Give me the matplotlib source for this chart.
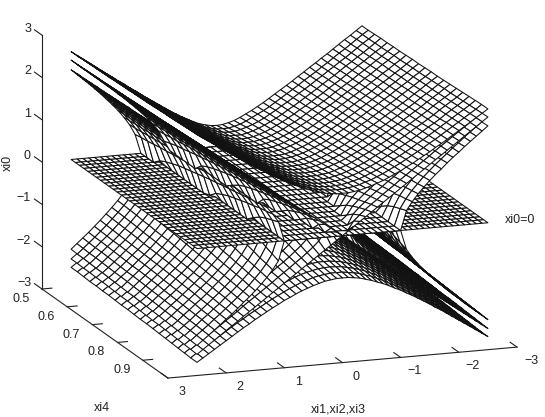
import numpy as np
import matplotlib
matplotlib.use("Agg")
import matplotlib.pyplot as plt
from mpl_toolkits.mplot3d import proj3d
from mpl_toolkits.mplot3d.art3d import Poly3DCollection

plt.rcParams['font.family'] = ['Liberation Sans', 'DejaVu Sans']

# mesh nodes, right half of xi only (the picture is mirror symmetric in xi)
xi_half = [0.0, 0.1, 0.2, 0.3, 0.4, 0.5, 0.6, 0.7, 0.8, 0.9, 1.0, 1.1, 1.2,
           1.3, 1.4, 1.5, 1.6, 1.7, 1.8, 1.9, 2.0, 2.1, 2.2, 2.3, 2.4, 2.5]
xi4 = [0.5, 0.525, 0.55, 0.575, 0.6, 0.625, 0.65, 0.675, 0.7, 0.725, 0.75,
       0.775, 0.8, 0.825, 0.85, 0.875, 0.9, 0.925, 0.95, 0.975, 1.0]
plane_xi4 = [0.5, 0.517, 0.533, 0.55, 0.567, 0.583, 0.6, 0.617, 0.633, 0.65, 0.667,
             0.683, 0.7, 0.717, 0.733, 0.75, 0.767, 0.783, 0.8, 0.817, 0.833,
             0.85, 0.867, 0.883, 0.9, 0.917, 0.933, 0.95, 0.967, 0.983, 1.0]

# heights of the three upper sheets (rows: xi4, columns: xi_half)
# not read node by node: worked out by hand from xi0^2 = xi^2 + xi4^2 - j (j = 2, 1, 0),
# a relation fitted to the corners, edges and meeting points read off the picture
# where a sheet has no height of its own it lies in the xi0=0 plane
sheet_inner = [
    [0]*14 + [.46,.71,.90,1.07,1.22,1.36,1.50,1.63,1.76,1.88,2.00,2.12],
    [0]*14 + [.49,.72,.91,1.08,1.23,1.37,1.51,1.64,1.77,1.89,2.01,2.13],
    [0]*14 + [.51,.74,.93,1.09,1.24,1.38,1.52,1.65,1.77,1.90,2.02,2.13],
    [0]*13 + [.14,.54,.76,.94,1.10,1.25,1.39,1.53,1.66,1.78,1.90,2.02,2.14],
    [0]*13 + [.22,.57,.78,.96,1.12,1.26,1.40,1.54,1.66,1.79,1.91,2.03,2.15],
    [0]*13 + [.28,.59,.80,.97,1.13,1.28,1.41,1.55,1.67,1.80,1.92,2.04,2.15],
    [0]*13 + [.34,.62,.82,.99,1.15,1.29,1.43,1.56,1.68,1.81,1.93,2.05,2.16],
    [0]*13 + [.38,.64,.84,1.01,1.16,1.30,1.44,1.57,1.69,1.82,1.94,2.05,2.17],
    [0]*13 + [.42,.67,.86,1.02,1.17,1.32,1.45,1.58,1.70,1.82,1.94,2.06,2.18],
    [0]*13 + [.46,.70,.88,1.04,1.19,1.33,1.46,1.59,1.71,1.83,1.95,2.07,2.19],
    [0]*12 + [.05,.50,.72,.90,1.06,1.21,1.34,1.47,1.60,1.72,1.84,1.96,2.08,2.19],
    [0]*12 + [.20,.54,.75,.92,1.08,1.22,1.36,1.49,1.61,1.74,1.85,1.97,2.09,2.20],
    [0]*12 + [.28,.57,.77,.94,1.10,1.24,1.37,1.50,1.62,1.75,1.87,1.98,2.10,2.21],
    [0]*12 + [.35,.61,.80,.96,1.11,1.25,1.39,1.51,1.64,1.76,1.88,1.99,2.11,2.22],
    [0]*12 + [.40,.64,.83,.99,1.13,1.27,1.40,1.53,1.65,1.77,1.89,2.00,2.12,2.23],
    [0]*12 + [.45,.67,.85,1.01,1.15,1.29,1.42,1.54,1.66,1.78,1.90,2.01,2.13,2.24],
    [0]*11 + [.14,.50,.71,.88,1.03,1.17,1.30,1.43,1.56,1.68,1.79,1.91,2.02,2.14,2.25],
    [0]*11 + [.26,.54,.74,.90,1.05,1.19,1.32,1.45,1.57,1.69,1.81,1.92,2.04,2.15,2.26],
    [0]*11 + [.34,.59,.77,.93,1.07,1.21,1.34,1.46,1.59,1.70,1.82,1.93,2.05,2.16,2.27],
    [0]*11 + [.40,.62,.80,.95,1.10,1.23,1.36,1.48,1.60,1.72,1.83,1.95,2.06,2.17,2.28],
    [0]*11 + [.46,.66,.83,.98,1.12,1.25,1.37,1.50,1.62,1.73,1.85,1.96,2.07,2.18,2.29],
]
sheet_mid = [
    [0]*9 + [.24,.50,.68,.83,.97,1.10,1.22,1.35,1.46,1.58,1.69,1.80,1.91,2.02,2.13,2.24,2.35],
    [0]*9 + [.29,.52,.70,.85,.98,1.11,1.24,1.35,1.47,1.59,1.70,1.81,1.92,2.03,2.14,2.24,2.35],
    [0]*9 + [.34,.55,.72,.86,1.00,1.12,1.25,1.36,1.48,1.59,1.71,1.82,1.93,2.04,2.14,2.25,2.36],
    [0]*9 + [.37,.57,.74,.88,1.01,1.14,1.26,1.37,1.49,1.60,1.71,1.82,1.93,2.04,2.15,2.26,2.36],
    [0]*9 + [.41,.60,.75,.89,1.02,1.15,1.27,1.39,1.50,1.61,1.72,1.83,1.94,2.05,2.16,2.26,2.37],
    [0]*8 + [.17,.45,.63,.77,.91,1.04,1.16,1.28,1.40,1.51,1.62,1.73,1.84,1.95,2.06,2.16,2.27,2.37],
    [0]*8 + [.25,.48,.65,.80,.93,1.05,1.18,1.29,1.41,1.52,1.63,1.74,1.85,1.96,2.06,2.17,2.28,2.38],
    [0]*8 + [.31,.52,.67,.82,.95,1.07,1.19,1.31,1.42,1.53,1.64,1.75,1.86,1.97,2.07,2.18,2.28,2.39],
    [0]*8 + [.36,.55,.70,.84,.96,1.09,1.20,1.32,1.43,1.54,1.65,1.76,1.87,1.97,2.08,2.19,2.29,2.40],
    [0]*7 + [.12,.41,.58,.72,.86,.98,1.10,1.22,1.33,1.44,1.55,1.66,1.77,1.88,1.98,2.09,2.19,2.30,2.40],
    [0]*7 + [.23,.45,.61,.75,.88,1.00,1.12,1.23,1.35,1.46,1.57,1.67,1.78,1.89,1.99,2.10,2.20,2.31,2.41],
    [0]*7 + [.30,.49,.64,.77,.90,1.02,1.14,1.25,1.36,1.47,1.58,1.69,1.79,1.90,2.00,2.11,2.21,2.32,2.42],
    [0]*7 + [.36,.53,.67,.80,.92,1.04,1.15,1.26,1.37,1.48,1.59,1.70,1.80,1.91,2.01,2.12,2.22,2.32,2.43],
    [0]*6 + [.20,.41,.57,.70,.82,.94,1.06,1.17,1.28,1.39,1.50,1.60,1.71,1.81,1.92,2.02,2.13,2.23,2.33,2.44],
    [0]*6 + [.29,.46,.60,.73,.85,.97,1.08,1.19,1.30,1.40,1.51,1.62,1.72,1.83,1.93,2.03,2.14,2.24,2.34,2.44],
    [0]*5 + [.12,.35,.51,.64,.76,.87,.99,1.10,1.21,1.31,1.42,1.52,1.63,1.73,1.84,1.94,2.04,2.15,2.25,2.35,2.45],
    [0]*5 + [.24,.41,.55,.67,.79,.90,1.01,1.12,1.22,1.33,1.44,1.54,1.64,1.75,1.85,1.95,2.05,2.16,2.26,2.36,2.46],
    [0]*4 + [.12,.32,.46,.59,.70,.82,.92,1.03,1.14,1.24,1.35,1.45,1.55,1.66,1.76,1.86,1.96,2.07,2.17,2.27,2.37,2.47],
    [0]*4 + [.25,.39,.51,.63,.74,.84,.95,1.05,1.16,1.26,1.36,1.47,1.57,1.67,1.77,1.87,1.98,2.08,2.18,2.28,2.38,2.48],
    [0]*3 + [.20,.33,.45,.56,.66,.77,.87,.97,1.08,1.18,1.28,1.38,1.48,1.58,1.69,1.79,1.89,1.99,2.09,2.19,2.29,2.39,2.49],
    [0,.10,.20,.30,.40,.50,.60,.70,.80,.90,1.00,1.10,1.20,1.30,1.40,1.50,1.60,1.70,1.80,1.90,2.00,2.10,2.20,2.30,2.40,2.50],
]
sheet_outer = [
    [.50,.51,.54,.58,.64,.71,.78,.86,.94,1.03,1.12,1.21,1.30,1.39,1.49,1.58,1.68,1.77,1.87,1.96,2.06,2.16,2.26,2.35,2.45,2.55],
    [.53,.53,.56,.60,.66,.73,.80,.87,.95,1.04,1.13,1.22,1.31,1.40,1.50,1.59,1.68,1.78,1.87,1.97,2.07,2.16,2.26,2.36,2.46,2.55],
    [.55,.56,.59,.63,.68,.74,.81,.89,.97,1.06,1.14,1.23,1.32,1.41,1.50,1.60,1.69,1.79,1.88,1.98,2.07,2.17,2.27,2.37,2.46,2.56],
    [.58,.58,.61,.65,.70,.76,.83,.90,.98,1.07,1.15,1.24,1.33,1.42,1.51,1.61,1.70,1.79,1.89,1.99,2.08,2.18,2.27,2.37,2.47,2.57],
    [.60,.61,.63,.67,.72,.78,.85,.92,1.00,1.08,1.17,1.25,1.34,1.43,1.52,1.62,1.71,1.80,1.90,1.99,2.09,2.18,2.28,2.38,2.47,2.57],
    [.63,.63,.66,.69,.74,.80,.86,.94,1.01,1.09,1.18,1.27,1.35,1.44,1.53,1.63,1.72,1.81,1.90,2.00,2.09,2.19,2.29,2.38,2.48,2.58],
    [.65,.66,.68,.72,.76,.82,.88,.95,1.03,1.11,1.19,1.28,1.37,1.45,1.54,1.64,1.73,1.82,1.91,2.01,2.10,2.20,2.30,2.39,2.49,2.58],
    [.68,.68,.70,.74,.78,.84,.90,.97,1.04,1.12,1.21,1.29,1.38,1.47,1.56,1.65,1.74,1.83,1.92,2.02,2.11,2.21,2.30,2.40,2.49,2.59],
    [.70,.71,.73,.76,.81,.86,.92,.99,1.06,1.14,1.22,1.30,1.39,1.48,1.57,1.66,1.75,1.84,1.93,2.03,2.12,2.21,2.31,2.40,2.50,2.60],
    [.73,.73,.75,.78,.83,.88,.94,1.01,1.08,1.15,1.24,1.32,1.40,1.49,1.58,1.67,1.76,1.85,1.94,2.03,2.13,2.22,2.32,2.41,2.51,2.60],
    [.75,.76,.78,.81,.85,.90,.96,1.02,1.09,1.17,1.25,1.33,1.42,1.50,1.59,1.68,1.77,1.86,1.95,2.04,2.14,2.23,2.32,2.42,2.51,2.61],
    [.78,.78,.80,.83,.87,.92,.98,1.04,1.11,1.19,1.26,1.35,1.43,1.52,1.60,1.69,1.78,1.87,1.96,2.05,2.15,2.24,2.33,2.43,2.52,2.62],
    [.80,.81,.82,.85,.89,.94,1.00,1.06,1.13,1.20,1.28,1.36,1.44,1.53,1.61,1.70,1.79,1.88,1.97,2.06,2.15,2.25,2.34,2.44,2.53,2.62],
    [.83,.83,.85,.88,.92,.96,1.02,1.08,1.15,1.22,1.30,1.38,1.46,1.54,1.63,1.71,1.80,1.89,1.98,2.07,2.16,2.26,2.35,2.44,2.54,2.63],
    [.85,.86,.87,.90,.94,.99,1.04,1.10,1.17,1.24,1.31,1.39,1.47,1.56,1.64,1.73,1.81,1.90,1.99,2.08,2.17,2.27,2.36,2.45,2.55,2.64],
    [.88,.88,.90,.92,.96,1.01,1.06,1.12,1.19,1.26,1.33,1.41,1.49,1.57,1.65,1.74,1.83,1.91,2.00,2.09,2.18,2.28,2.37,2.46,2.55,2.65],
    [.90,.91,.92,.95,.98,1.03,1.08,1.14,1.20,1.27,1.35,1.42,1.50,1.58,1.67,1.75,1.84,1.93,2.01,2.10,2.19,2.29,2.38,2.47,2.56,2.66],
    [.93,.93,.95,.97,1.01,1.05,1.10,1.16,1.22,1.29,1.36,1.44,1.52,1.60,1.68,1.76,1.85,1.94,2.03,2.11,2.20,2.30,2.39,2.48,2.57,2.67],
    [.95,.96,.97,1.00,1.03,1.07,1.12,1.18,1.24,1.31,1.38,1.46,1.53,1.61,1.69,1.78,1.86,1.95,2.04,2.13,2.22,2.31,2.40,2.49,2.58,2.68],
    [.98,.98,1.00,1.02,1.05,1.10,1.14,1.20,1.26,1.33,1.40,1.47,1.55,1.63,1.71,1.79,1.88,1.96,2.05,2.14,2.23,2.32,2.41,2.50,2.59,2.69],
    [1.00,1.00,1.02,1.04,1.08,1.12,1.17,1.22,1.28,1.35,1.41,1.49,1.56,1.64,1.72,1.80,1.89,1.97,2.06,2.15,2.24,2.33,2.42,2.51,2.60,2.69],
]

z_ticks = [-3, -2, -1, 0, 1, 2, 3]
y_ticks = [0.5, 0.6, 0.7, 0.8, 0.9]
x_ticks = [3, 2, 1, 0, -1, -2, -3]

W, H = 545, 417


def quads(x, y, z):
    out = []
    for j in range(len(y) - 1):
        for i in range(len(x) - 1):
            out.append([(x[i], y[j], z[j][i]), (x[i + 1], y[j], z[j][i + 1]),
                        (x[i + 1], y[j + 1], z[j + 1][i + 1]), (x[i], y[j + 1], z[j + 1][i])])
    return out


def add_mesh(y, z, order):
    mesh = Poly3DCollection(quads(xs, y, z), facecolors='white', edgecolors='#111111',
                            linewidths=0.75, zsort='average', zorder=order)
    ax.add_collection3d(mesh)


fig = plt.figure(figsize=(W / 100, H / 100), dpi=100)
ax = fig.add_axes([0, 0, H / W, 1], projection='3d', proj_type='ortho')
ax.set_box_aspect((370, 377, 262))
ax.view_init(elev=14.5, azim=70.5)
ax.set_xlim(-3, 3, view_margin=0)
ax.set_ylim(0.5, 1, view_margin=0)
ax.set_zlim(-3, 3, view_margin=0)
ax.set_axis_off()
ax.computed_zorder = False


def screen(x, y, z):
    u, v, _ = proj3d.proj_transform(x, y, z, ax.get_proj())
    return ax.transData.transform((u, v))


# slide and scale the square axes so that the box corners land where the reference has them
a = screen(3, 0.5, -3)
b = screen(-3, 1, -3)
k = 475 / (b[0] - a[0])
size = H * k
ax.set_position([0, 0, size / W, size / H])
ax.apply_aspect()
a = screen(3, 0.5, -3)
ax.set_position([(42 - a[0]) / W, ((H - 289) - a[1]) / H, size / W, size / H])
ax.apply_aspect()

xs = np.r_[-np.array(xi_half[:0:-1]), xi_half]

# the sheets are nested and seen from above, so paint them from the lowest to the highest
upper = []
for sheet in (sheet_inner, sheet_mid, sheet_outer):
    t = np.array(sheet)
    upper.append(np.c_[t[:, :0:-1], t])
add_mesh(xi4, -upper[2], 2)
add_mesh(xi4, -upper[1], 3)
add_mesh(xi4, -upper[0], 4)
add_mesh(plane_xi4, np.zeros((len(plane_xi4), len(xs))), 5)
add_mesh(xi4, upper[0], 6)
add_mesh(xi4, upper[1], 7)
add_mesh(xi4, upper[2], 8)

# box edges and ticks
line = dict(color='#222222', lw=0.8, zorder=1)
ax.plot([3, 3], [0.5, 0.5], [-3, 3], **line)
ax.plot([3, 3], [0.5, 1], [-3, -3], **line)
ax.plot([3, -3], [1, 1], [-3, -3], **line)


def label(x, y, z, dx, dy, text, ha='center'):
    p = screen(x, y, z)
    fig.text((p[0] + dx) / W, (p[1] - dy) / H, text, ha=ha, va='center', fontsize=9, color='#222222')


for v in z_ticks:
    ax.plot([3, 3], [0.5, 0.47], [v, v], **line)
    label(3, 0.5, v, -11, -6, str(v).replace('-', '\u2212'), ha='right')
for v in y_ticks:
    ax.plot([3, 2.83], [v, v], [-3, -3], **line)
    label(3, v, -3, -21, 10, str(v))
for v in x_ticks:
    ax.plot([v, v], [1, 0.973], [-3, -3], **line)
    label(v, 1, -3, 14, 14, str(v).replace('-', '\u2212'))

fig.text(8 / W, 1 - 163 / H, 'xi0', rotation=90, ha='center', va='center', fontsize=9, color='#222222')
fig.text(102 / W, 1 - 408 / H, 'xi4', ha='center', va='center', fontsize=9, color='#222222')
fig.text(338 / W, 1 - 409 / H, 'xi1,xi2,xi3', ha='center', va='center', fontsize=9, color='#222222')
fig.text(520 / W, 1 - 220 / H, 'xi0=0', ha='center', va='center', fontsize=9, color='#222222')

fig.savefig('out.png', dpi=100)
